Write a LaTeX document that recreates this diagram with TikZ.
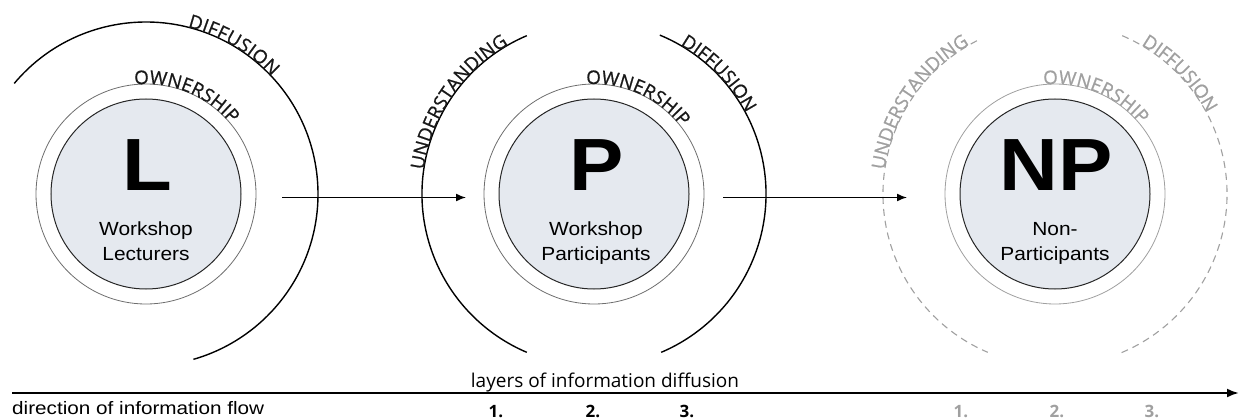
\documentclass[tikz,border=0pt]{standalone}
\usepackage{fontspec}
\setmainfont{Liberation Sans}
\newfontfamily\arialw{Liberation Sans}[FakeStretch=1.1]
\newfontfamily\arialb{Liberation Sans}[FakeStretch=1.15]
\newfontfamily\osans{Open Sans}
\newfontfamily\arcfont{Open Sans}[Scale=1.25,FakeBold=0.8]
\usetikzlibrary{decorations.text, arrows.meta}
\definecolor{fillc}{RGB}{229,233,239}
\definecolor{ringc}{RGB}{110,110,110}
\definecolor{lightg}{RGB}{160,160,160}
\definecolor{darkt}{RGB}{25,25,25}
\newcommand\arclabel[6]{%
  \path[decorate, decoration={text along path, text align=fit to path,
    text={|\arcfont\color{#5}|#6}}]
    (#1) ++(#3:#2) arc[start angle=#3, end angle=#4, radius=#2];}
\tikzset{
  core/.style={circle, draw=black!85, line width=1bp, fill=fillc, minimum size=190bp, inner sep=0pt},
  ring/.style={draw=ringc, line width=0.8bp},
  lightring/.style={draw=lightg, line width=0.8bp},
  arcline/.style={line width=1.4bp, black},
  dasharc/.style={line width=1.1bp, lightg, dash pattern=on 7bp off 5bp},
  flow/.style={line width=1.5bp, -{Latex[length=10bp,width=8bp]}},
  bigletter/.style={font=\bfseries\arialw\fontsize{74bp}{74bp}\selectfont, anchor=base, inner sep=0pt},
  label/.style={font=\arialw\fontsize{19bp}{25bp}\selectfont, align=center, anchor=base, inner sep=0pt},
  num/.style={font=\osans\bfseries\fontsize{17bp}{17bp}\selectfont, anchor=base, inner sep=0pt},
}
\begin{document}
\fontsize{15bp}{15bp}\selectfont
\begin{tikzpicture}[x=1bp,y=1bp]
\useasboundingbox (0,0) rectangle (1239,419);
% circles
\node[core] (L) at (146,225) {};
\node[core] (P) at (594,225) {};
\node[core] (NP) at (1055,225) {};
\draw[ring] (L.center) circle[radius=110bp];
\draw[ring] (P.center) circle[radius=110bp];
\draw[lightring] (NP.center) circle[radius=110bp];
% outer arcs
\draw[arcline] (L.center) ++(140:172bp) arc[start angle=140, end angle=-74, radius=172bp];
\draw[arcline] (P.center) ++(113:172bp) arc[start angle=113, end angle=247, radius=172bp];
\draw[arcline] (P.center) ++(67.5:172bp) arc[start angle=67.5, end angle=-67, radius=172bp];
\draw[dasharc] (NP.center) ++(117:172bp) arc[start angle=117, end angle=247, radius=172bp];
\draw[dasharc] (NP.center) ++(67:172bp) arc[start angle=67, end angle=-68, radius=172bp];
% arc labels
\arclabel{L.center}{110bp}{96}{40}{darkt}{OWNERSHIP}
\arclabel{L.center}{172bp}{76}{43}{darkt}{DIFFUSION}
\arclabel{P.center}{110bp}{94}{38}{darkt}{OWNERSHIP}
\arclabel{P.center}{172bp}{172}{122}{darkt}{UNDERSTANDING}
\arclabel{P.center}{172bp}{60}{29}{darkt}{DIFFUSION}
\arclabel{NP.center}{110bp}{96}{39}{lightg}{OWNERSHIP}
\arclabel{NP.center}{172bp}{172}{122}{lightg}{UNDERSTANDING}
\arclabel{NP.center}{172bp}{60}{29}{lightg}{DIFFUSION}
% letters and labels
\node[bigletter] (Lt) at (147,229) {L};
\node[bigletter] (Pt) at (597,229) {P};
\node[bigletter] (NPt) at (1056,229) {NP};
\node[label] (Ll) at (146,159) {Workshop\\Lecturers};
\node[label] (Pl) at (596,159) {Workshop\\Participants};
\node[label] (NPl) at (1055,159) {Non-\\Participants};
% arrows
\coordinate (a1s) at (282,221.5);
\coordinate (a1e) at (466,221.5);
\coordinate (a2s) at (723,221.5);
\coordinate (a2e) at (907,221.5);
\draw[flow] (a1s) -- (a1e);
\draw[flow] (a2s) -- (a2e);
% bottom axis
\coordinate (bs) at (12,26);
\coordinate (be) at (1239,26);
\draw[line width=2.2bp, -{Latex[length=12bp,width=9bp]}] (bs) -- (be);
\node[font=\arialb\fontsize{18bp}{18bp}\selectfont, anchor=base west, inner sep=0pt] (dir) at (12,5) {direction of information flow};
\node[font=\osans\fontsize{19bp}{19bp}\selectfont, anchor=base, inner sep=0pt] (lay) at (605,32) {layers of information diffusion};
\node[num] (n1) at (496,2) {1.};
\node[num] (n2) at (593,2) {2.};
\node[num] (n3) at (687,2) {3.};
\node[num, text=lightg] (m1) at (961,2) {1.};
\node[num, text=lightg] (m2) at (1057,2) {2.};
\node[num, text=lightg] (m3) at (1152,2) {3.};
\end{tikzpicture}
\end{document}
